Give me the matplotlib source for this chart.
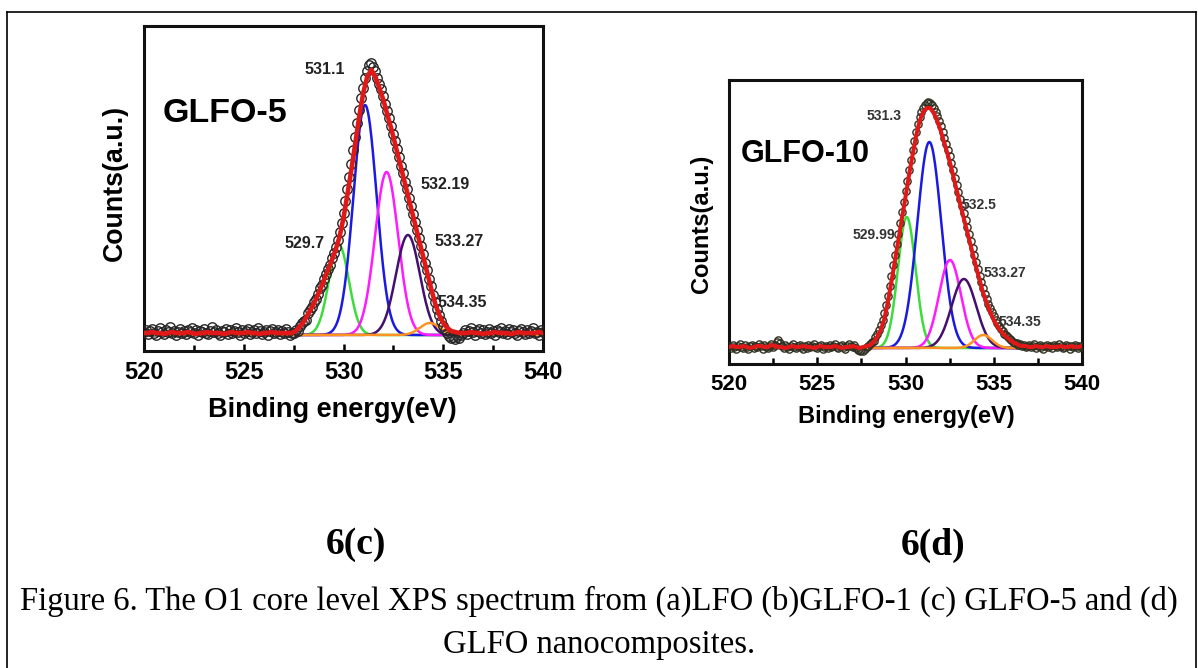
import numpy as np
import matplotlib
matplotlib.use("Agg")
import matplotlib.pyplot as plt
from matplotlib.lines import Line2D
from matplotlib.ticker import MultipleLocator

# ---------------- data ----------------
obs_energy = np.round(np.linspace(520, 540, 201), 1)      # measured points, 0.1 eV
fit_energy = np.round(np.linspace(520, 540, 101), 1)      # envelope, 0.2 eV
curve_energy = np.linspace(520, 540, 801)

xticks = [520, 525, 530, 535, 540]

# Panel (c) GLFO-5 : measured counts (a.u.)
obs_c = [3, 5, 1, 4, 6, 2, 0, 4, 7, 3,
         1, 5, 3, 8, 2, 4, 0, 3, 6, 2,
         4, 1, 5, 3, 7, 2, 5, 0, 4, 3,
         6, 2, 1, 4, 8, 3, 5, 2, 0, 4,
         3, 6, 1, 5, 2, 4, 7, 3, 0, 5,
         2, 4, 6, 1, 3, 5, 2, 7, 4, 1,
         3, 5, 0, 4, 6, 2, 3, 5, 1, 4,
         2, 6, 3, 0, 2,
         2, 5, 4, 9, 12, 14, 15, 22, 25, 28,
         33, 36, 41, 47, 50, 56, 61, 66, 70, 77,
         82, 88, 95, 103, 112, 122, 134, 146, 158, 171,
         185, 198, 212, 225, 237, 247, 257, 264, 270, 272,
         268, 264, 257, 251, 246, 239, 231, 224, 217, 209,
         201, 194, 186, 178, 169, 162, 153, 146, 137, 129,
         121, 113, 105, 97, 89, 81, 72, 65, 56, 49,
         40, 33, 26, 20, 14, 9, 5, 2, -1, -3,
         -2, -4, -1, -3, 0,
         2, 5, 1, 4, 7, 3, 0, 4, 6, 2,
         5, 1, 3, 6, 2, 4, 0, 5, 3, 7,
         2, 4, 1, 6, 3, 5, 2, 0, 4, 6,
         3, 1, 5, 2, 4, 7, 2, 3, 0, 5,
         3]
fit_c = [2, 2, 3, 2, 2, 1, 2, 3, 2, 2, 2, 3, 2, 1, 2, 2, 3, 2, 2, 2,
         1, 2, 3, 2, 2, 2, 3, 2, 2, 1, 2, 2, 3, 2, 2, 2, 2, 2,
         4, 8, 13, 20, 27, 35, 44, 54, 64, 74, 85, 98, 117, 141, 166, 193,
         220, 243, 259, 265, 258, 247, 235, 220, 206, 190, 174, 158, 142, 126,
         110, 94, 78, 62, 46, 31, 20, 12, 7, 4, 3,
         2, 2, 2, 3, 2, 2, 1, 2, 2, 3, 2, 2, 2, 1, 2, 3, 2, 2, 2, 2, 3, 2]
peak_centers_c = [529.77, 531.08, 532.16, 533.23, 534.33]
peak_heights_c = [90, 230, 163, 100, 12]
peak_sigmas_c = [0.50, 0.58, 0.58, 0.60, 0.50]
peak_labels_c = ["529.7", "531.1", "532.19", "533.27", "534.35"]

# Panel (d) GLFO-10
obs_d = [2, 0, 3, 1, -1, 2, 4, 1, 0, 3,
         1, -1, 2, 3, 0, 2, 1, 4, 2, -1,
         3, 1, 0, 2, 4, 1, 3, 6, 8, 5,
         2, 0, 3, 1, -1, 2, 4, 1, 0, 2,
         3, 1, -1, 2, 0, 3, 1, 2, 4, 1,
         0, 2, 3, -1, 1, 2, 0, 3, 1, 2,
         4, 1, 0, 2, 3, 1, -1, 2, 4, 2,
         1, 3, 0, -2, -3, -2, -3, -1, 1, 2,
         4, 6, 7, 11, 14, 18, 23, 28, 35, 43,
         52, 62, 72, 83, 93, 104, 114, 125, 136, 146,
         157, 167, 178, 188, 198, 207, 216, 224, 231, 236,
         240, 243, 245, 246, 245, 243, 240, 236, 232, 227,
         222, 216, 210, 204, 198, 192, 185, 178, 170, 163,
         156, 149, 142, 135, 128, 121, 114, 107, 100, 93,
         86, 79, 72, 66, 60, 54, 49, 44, 40, 36,
         32, 28, 25, 22, 19, 17, 14, 13, 11, 9,
         8, 6, 5, 5, 3, 4, 2, 3, 1, 2,
         3, 1, 2, 4, 0, 2, 3, 1, -1, 2,
         3, 1, 2, 0, 3, 2, 1, 4, 2, 0,
         1, 3, 2, -1, 2, 1, 3, 2, 0, 2,
         1]
fit_d = [1, 2, 1, 1, 2, 1, 0, 1, 2, 2, 1, 1, 3, 2, 1, 1, 0, 1, 2, 1,
         1, 2, 1, 1, 0, 1, 2, 1, 1, 1, 2, 1, 0, 1, 1, 2, 1, 0, 1,
         2, 3, 6, 11, 18, 29, 46, 66, 87, 108, 130, 151, 173, 193, 212,
         227, 236, 240, 240, 235, 227, 217, 205, 193, 180, 165, 151, 137, 123,
         109, 95, 81, 68, 55, 45, 36, 28, 22, 17, 13, 10, 7, 5, 3, 2,
         2, 1, 1, 2, 1, 1, 2, 1, 1, 1, 2, 1, 1, 2, 1, 1, 2]
peak_centers_d = [530.07, 531.35, 532.52, 533.31, 534.41]
peak_heights_d = [131, 206, 88, 69, 13]
peak_sigmas_d = [0.50, 0.68, 0.62, 0.70, 0.50]
peak_labels_d = ["529.99", "531.3", "532.5", "533.27", "534.35"]

component_colors = ["#3ddc3d", "#1a1ae0", "#ff1aff", "#44106e", "#ff9322"]

# ---------------- figure ----------------
W, H = 1198, 668
fig = plt.figure(figsize=(W / 100, H / 100), dpi=100)
SANS = "Liberation Sans"
SERIF = "Liberation Serif"


def fx(x):
    return x / W


def fy(y):
    return 1 - y / H


def panel(rect, obs, fit, centers, heights, sigmas, ylim, msize, mcol, redw, ticksize):
    ax = fig.add_axes(rect)
    for c, h, s, col in zip(centers, heights, sigmas, component_colors):
        ax.plot(curve_energy, h * np.exp(-(curve_energy - c) ** 2 / (2 * s * s)),
                color=col, lw=1.8, zorder=2)
    ax.plot(obs_energy, obs, ls="none", marker="o", ms=msize, mfc="none",
            mec=mcol, mew=1.0, zorder=3)
    ax.plot(fit_energy, fit, color="#e01818", lw=redw, zorder=4,
            solid_joinstyle="round")
    ax.set_xlim(520, 540)
    ax.set_ylim(*ylim)
    ax.set_yticks([])
    ax.set_xticks(xticks)
    ax.set_xticklabels([str(t) for t in xticks], fontsize=ticksize,
                       fontweight="bold", family=SANS)
    ax.xaxis.set_minor_locator(MultipleLocator(2.5))
    ax.tick_params(axis="x", which="major", direction="in", length=5, width=1.8,
                   pad=7.5, top=False)
    ax.tick_params(axis="x", which="minor", direction="in", length=4, width=1.8,
                   top=False)
    for sp in ax.spines.values():
        sp.set_linewidth(2.2)
        sp.set_color("#111111")
    return ax


ax1 = panel([fx(144), fy(351), 399 / W, 325 / H], obs_c, fit_c,
            peak_centers_c, peak_heights_c, peak_sigmas_c, (-16, 309),
            6.8, "#262626", 3.3, 17)
ax2 = panel([fx(729), fy(364), 353 / W, 284 / H], obs_d, fit_d,
            peak_centers_d, peak_heights_d, peak_sigmas_d, (-16, 268),
            5.2, "#303020", 2.9, 16)

# axis labels
fig.text(fx(332), fy(410), "Binding energy(eV)", ha="center", va="center",
         fontsize=19.5, fontweight="bold", family=SANS)
fig.text(fx(115), fy(183), "Counts(a.u.)", ha="center", va="center",
         rotation=90, fontsize=19.3, fontweight="bold", family=SANS)
fig.text(fx(906), fy(417), "Binding energy(eV)", ha="center", va="center",
         fontsize=17, fontweight="bold", family=SANS)
fig.text(fx(702), fy(224), "Counts(a.u.)", ha="center", va="center",
         rotation=90, fontsize=17, fontweight="bold", family=SANS)

# sample names
fig.text(fx(163), fy(122), "GLFO-5", ha="left", va="baseline",
         fontsize=24.5, fontweight="bold", family=SANS)
fig.text(fx(741), fy(162), "GLFO-10", ha="left", va="baseline",
         fontsize=22, fontweight="bold", family=SANS)

# peak labels
pos_c = [(305, 243), (325, 69), (445, 185), (459, 242), (462, 302)]
for (px, py), lab in zip(pos_c, peak_labels_c):
    fig.text(fx(px), fy(py), lab, ha="center", va="center", fontsize=11.5,
             fontweight="bold", family=SANS, color="#222222")
pos_d = [(874, 235), (884, 116), (979, 205), (1005, 273), (1020, 322)]
for (px, py), lab in zip(pos_d, peak_labels_d):
    fig.text(fx(px), fy(py), lab, ha="center", va="center", fontsize=10,
             fontweight="bold", family=SANS, color="#333333")

# panel captions
fig.text(fx(356), fy(545), "6(c)", ha="center", va="center", fontsize=27,
         fontweight="bold", family=SERIF)
fig.text(fx(933), fy(545), "6(d)", ha="center", va="center", fontsize=27,
         fontweight="bold", family=SERIF)
fig.text(fx(599), fy(601),
         "Figure 6. The O1 core level XPS spectrum from (a)LFO (b)GLFO-1 (c) GLFO-5 and (d)",
         ha="center", va="center", fontsize=23.5, family=SERIF)
fig.text(fx(599), fy(645), "GLFO nanocomposites.", ha="center", va="center",
         fontsize=23.5, family=SERIF)

# outer frame
for xs, ys in [((7, 7), (12, 668)), ((7, 1196), (12, 12)), ((1196, 1196), (12, 668))]:
    fig.add_artist(Line2D([fx(xs[0]), fx(xs[1])], [fy(ys[0]), fy(ys[1])],
                          color="black", lw=1.2, transform=fig.transFigure))

fig.savefig("out.png", dpi=100)
